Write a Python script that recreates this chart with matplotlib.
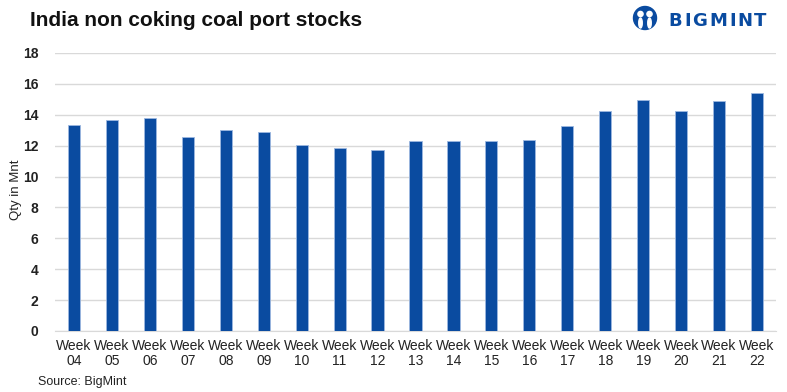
import matplotlib.pyplot as plt
from matplotlib.patches import Circle, Ellipse

weeks = ["04", "05", "06", "07", "08", "09", "10", "11", "12", "13",
         "14", "15", "16", "17", "18", "19", "20", "21", "22"]
stocks = [13.36, 13.64, 13.77, 12.58, 13.03, 12.90, 12.06, 11.82, 11.70, 12.27,
          12.32, 12.32, 12.36, 13.27, 14.22, 14.94, 14.26, 14.89, 15.39]
y_ticks = [0, 2, 4, 6, 8, 10, 12, 14, 16, 18]

BLUE = "#0a4ba0"
plt.rcParams['font.family'] = ['Liberation Sans', 'DejaVu Sans']

fig = plt.figure(figsize=(7.87, 3.92), dpi=100)
ax = fig.add_axes([55 / 787, 1 - 331 / 392, 721 / 787, 278 / 392])

x = list(range(len(weeks)))
ax.bar(x, stocks, width=0.32, color=BLUE, edgecolor="#9db8e0", linewidth=0.6, zorder=3)

ax.set_xlim(-0.5, len(weeks) - 0.5)
ax.set_ylim(0, 18)
ax.set_yticks(y_ticks)
ax.set_yticklabels([str(t) for t in y_ticks], fontsize=10, fontweight="bold", color="#222222")
ax.set_xticks(x)
ax.set_xticklabels(["Week\n" + w for w in weeks], fontsize=10, color="#222222", linespacing=1.05)
ax.tick_params(axis="both", length=0)
ax.tick_params(axis="y", pad=12)
ax.tick_params(axis="x", pad=6)
ax.grid(axis="y", color="#d9d9d9", linewidth=1, zorder=0)
for side in ["top", "right", "left"]:
    ax.spines[side].set_visible(False)
ax.spines["bottom"].set_color("#d9d9d9")

fig.text(16 / 787, 1 - 190 / 392, "Qty in Mnt", fontsize=9.5, color="#222222",
         rotation=90, va="center", ha="center")
fig.text(30 / 787, 1 - 21 / 392, "India non coking coal port stocks", fontsize=15,
         fontweight="bold", color="#111111", va="center", ha="left")
fig.text(38 / 787, 1 - 382 / 392, "Source: BigMint", fontsize=9, color="#222222",
         va="center", ha="left")

# logo
lax = fig.add_axes([628 / 787, 1 - 34 / 392, 150 / 787, 30 / 392])
lax.set_xlim(628, 778)
lax.set_ylim(34, 4)
lax.axis("off")
lax.add_patch(Circle((645, 18), 11.5, color=BLUE))
lax.add_patch(Circle((640.5, 14), 2.6, color="white"))
lax.add_patch(Circle((649.5, 14), 2.6, color="white"))
lax.add_patch(Ellipse((640.5, 23), 3.5, 10, color="white"))
lax.add_patch(Ellipse((649.5, 23), 3.5, 10, color="white"))
letter_x = [668, 684, 692, 709, 729, 737, 754]
for lx, ch in zip(letter_x, "BIGMINT"):
    lax.text(lx, 21.5, ch, fontsize=13, fontweight="bold", color=BLUE,
             family="DejaVu Sans", va="center", ha="left")

fig.savefig("out.png", dpi=100)
